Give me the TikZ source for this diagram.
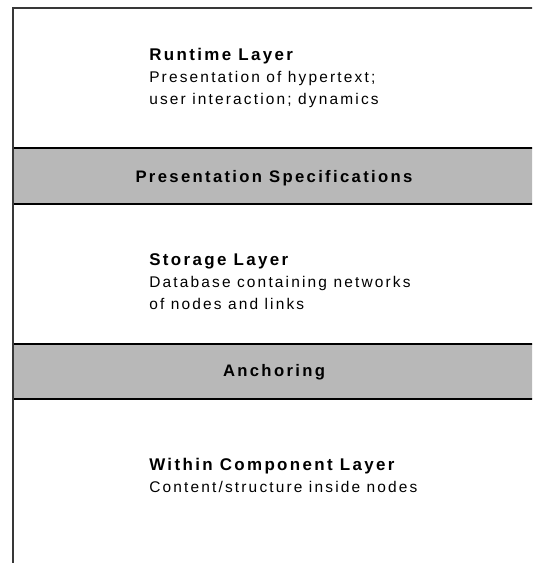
\documentclass[tikz,border=0pt]{standalone}
\usepackage{fontspec}
\setmainfont{Liberation Sans}[LetterSpace=14]
\usetikzlibrary{positioning}

\begin{document}
\begin{tikzpicture}[x=0.75pt, y=-0.75pt,
    frame/.style={draw=black!78, line width=1.5pt},
    band/.style={draw=black, line width=1.1pt, fill=bandgray},
    bandlabel/.style={anchor=base, inner sep=0pt, font=\fontsize{12.5}{15}\selectfont\bfseries},
    layertext/.style={anchor=north west, inner sep=0pt, align=left,
        font=\fontsize{11.6}{16.5}\selectfont}]
    \definecolor{bandgray}{RGB}{184, 184, 184}
    \useasboundingbox (0,0) rectangle (532,563);
    \clip (0,0) rectangle (532,563);

    % grey separator bands
    \filldraw[band] (13,148) rectangle (545,204);
    \filldraw[band] (13,344) rectangle (545,399);
    \node[bandlabel] (spec) at (274,182) {Presentation Specifications};
    \node[bandlabel] (anchor) at (274,376) {Anchoring};

    % outer frame, open at the right and bottom
    \draw[frame] (13,580) -- (13,8) -- (550,8);

    % the three layers
    \node[layertext] (runtime) at (149,48)
        {{\fontsize{12.7}{16.5}\selectfont\bfseries Runtime Layer}\\
         Presentation of hypertext;\\ user interaction; dynamics};
    \node[layertext] (storage) at (149,253)
        {{\fontsize{12.7}{16.5}\selectfont\bfseries Storage Layer}\\
         Database containing networks\\ of nodes and links};
    \node[layertext] (within) at (149,458)
        {{\fontsize{12.7}{16.5}\selectfont\bfseries Within Component Layer}\\
         Content/structure inside nodes};
\end{tikzpicture}
\end{document}
